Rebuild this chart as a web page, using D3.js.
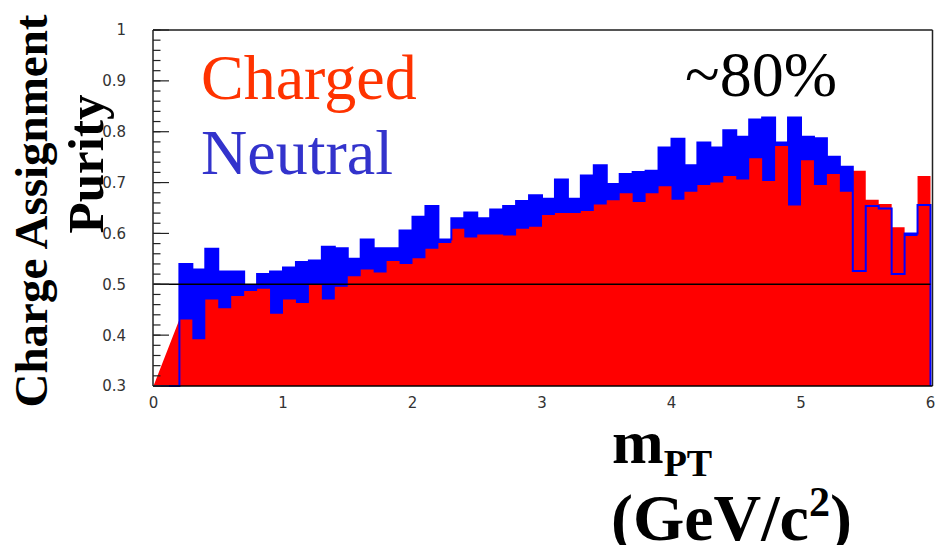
<!DOCTYPE html>
<html><head><meta charset="utf-8">
<script src="https://cdn.jsdelivr.net/npm/d3@7"></script>
<style>html,body{margin:0;padding:0;background:#fff}svg{display:block}</style>
</head><body>
<script>
// ---- data (60 bins of width 0.1 GeV/c^2, 0..6) ----
const xDomain = [0, 6];
const yDomain = [0.3, 1.0];
const binWidth = 0.1;
const charged = [0, 0, 0.431, 0.392, 0.470, 0.453, 0.477, 0.487, 0.491, 0.442,
  0.470, 0.463, 0.499, 0.470, 0.495, 0.516, 0.529, 0.523, 0.546, 0.540,
  0.551, 0.570, 0.581, 0.609, 0.592, 0.598, 0.598, 0.596, 0.609, 0.613,
  0.636, 0.640, 0.640, 0.644, 0.657, 0.665, 0.679, 0.662, 0.679, 0.693,
  0.666, 0.682, 0.695, 0.700, 0.713, 0.706, 0.748, 0.703, 0.772, 0.655,
  0.744, 0.695, 0.717, 0.682, 0.723, 0.666, 0.658, 0.612, 0.595, 0.713];
const neutral = [0, 0, 0.540, 0.529, 0.570, 0.525, 0.525, 0.497, 0.520, 0.525,
  0.533, 0.544, 0.547, 0.574, 0.571, 0.550, 0.588, 0.571, 0.571, 0.606,
  0.633, 0.654, 0.588, 0.630, 0.641, 0.630, 0.647, 0.654, 0.664, 0.675,
  0.668, 0.706, 0.668, 0.714, 0.734, 0.697, 0.717, 0.721, 0.723, 0.769,
  0.786, 0.734, 0.779, 0.769, 0.803, 0.790, 0.824, 0.828, 0.779, 0.828,
  0.790, 0.787, 0.751, 0.731, 0.526, 0.654, 0.649, 0.520, 0.600, 0.656];
const yTickValues = [0.3, 0.4, 0.5, 0.6, 0.7, 0.8, 0.9, 1];
const yTickLabels = ["0.3", "0.4", "0.5", "0.6", "0.7", "0.8", "0.9", "1"];
const xTickValues = [0, 1, 2, 3, 4, 5, 6];
const xTickLabels = ["0", "1", "2", "3", "4", "5", "6"];
const refLine = 0.5;
const minorStep = 0.02;

// ---- layout ----
const W = 937, H = 545;
const svg = d3.select("body").append("svg").attr("width", W).attr("height", H);
svg.append("rect").attr("width", W).attr("height", H).attr("fill", "#fff");

const x = d3.scaleLinear().domain(xDomain).range([153.5, 930.5]);
const y = d3.scaleLinear().domain(yDomain).range([386, 30]);
const y0 = y(yDomain[0]);
const clampV = v => Math.max(yDomain[0], Math.min(yDomain[1], v));
const line = d3.line();

function stepPoints(vals, skipLow) {
  const pts = [[x(xDomain[0]), y0]];
  vals.forEach((v, i) => {
    if (skipLow && v <= yDomain[0]) return;
    const a = x(i * binWidth), b = x((i + 1) * binWidth);
    pts.push([a, y(clampV(v))], [b, y(clampV(v))]);
  });
  pts.push([x(xDomain[1]), y0]);
  return pts;
}

const plot = svg.append("g");
// neutral filled
plot.append("path").attr("d", line(stepPoints(neutral, false)) + "Z")
  .attr("fill", "#0000ff").attr("stroke", "none");
// charged filled on top
plot.append("path").attr("d", line(stepPoints(charged, true)) + "Z")
  .attr("fill", "#ff0000").attr("stroke", "none");
// neutral outline
plot.append("path").attr("d", line(stepPoints(neutral, false)))
  .attr("fill", "none").attr("stroke", "#0000ff").attr("stroke-width", 2);

// reference line at 0.5
plot.append("line").attr("x1", x(xDomain[0])).attr("x2", x(xDomain[1]))
  .attr("y1", y(refLine)).attr("y2", y(refLine))
  .attr("stroke", "#000").attr("stroke-width", 1.5);

// frame
const fL = 153, fR = 932.5, fT = 30, fB = 386;
svg.append("line").attr("x1", fL).attr("x2", fR).attr("y1", fT).attr("y2", fT).attr("stroke", "#555").attr("stroke-width", 2);
svg.append("line").attr("x1", fR).attr("x2", fR).attr("y1", fT).attr("y2", fB).attr("stroke", "#222").attr("stroke-width", 1.5);
svg.append("line").attr("x1", fL).attr("x2", fR).attr("y1", fB).attr("y2", fB).attr("stroke", "#000").attr("stroke-width", 1.5);
svg.append("line").attr("x1", fL).attr("x2", fL).attr("y1", fT).attr("y2", fB).attr("stroke", "#222").attr("stroke-width", 1.5);

// y ticks
const minor = d3.range(Math.round((yDomain[1] - yDomain[0]) / minorStep) + 1)
  .map(k => yDomain[0] + k * minorStep);
svg.append("g").selectAll("line.minor").data(minor).join("line")
  .attr("x1", fL).attr("x2", fL + 7.5).attr("y1", d => y(d)).attr("y2", d => y(d))
  .attr("stroke", "#222").attr("stroke-width", 1.2);
svg.append("g").selectAll("line.major").data(yTickValues).join("line")
  .attr("x1", fL).attr("x2", fL + 16).attr("y1", d => y(d)).attr("y2", d => y(d))
  .attr("stroke", "#222").attr("stroke-width", 1.2);
svg.append("g").selectAll("text").data(yTickValues).join("text")
  .attr("x", 126).attr("y", d => y(d)).attr("dy", "0.36em")
  .attr("text-anchor", "end")
  .attr("font-family", "DejaVu Sans").attr("font-size", 15)
  .attr("fill", "#333")
  .text((d, i) => yTickLabels[i]);

// x tick labels
svg.append("g").selectAll("text").data(xTickValues).join("text")
  .attr("x", d => x(d)).attr("y", 408)
  .attr("text-anchor", "middle")
  .attr("font-family", "DejaVu Sans").attr("font-size", 15)
  .attr("fill", "#333")
  .text((d, i) => xTickLabels[i]);

// legend-like labels
const serif = "Liberation Serif, Times New Roman, serif";
svg.append("text").attr("x", 201).attr("y", 99).attr("font-family", serif)
  .attr("font-size", 64).attr("fill", "#ff3300").text("Charged");
svg.append("text").attr("x", 201).attr("y", 174).attr("font-family", serif)
  .attr("font-size", 64).attr("fill", "#3333cc").text("Neutral");
svg.append("text").attr("x", 685).attr("y", 96).attr("font-family", serif)
  .attr("font-size", 64).attr("fill", "#000").text("~80%");

// y title
svg.append("text").attr("transform", "translate(47,211) rotate(-90)")
  .attr("text-anchor", "middle").attr("font-family", serif).attr("font-weight", "bold")
  .attr("font-size", 47).attr("fill", "#000").text("Charge Assignment");
svg.append("text").attr("transform", "translate(103,164) rotate(-90)")
  .attr("text-anchor", "middle").attr("font-family", serif).attr("font-weight", "bold")
  .attr("font-size", 51).attr("fill", "#000").text("Purity");

// x title
const xt = svg.append("text").attr("x", 612).attr("y", 463).attr("font-family", serif)
  .attr("font-weight", "bold").attr("fill", "#000");
xt.append("tspan").attr("font-size", 62).text("m");
xt.append("tspan").attr("font-size", 38).attr("dy", 13).text("PT");
const xt2 = svg.append("text").attr("x", 611).attr("y", 540).attr("font-family", serif)
  .attr("font-weight", "bold").attr("fill", "#000").attr("font-size", 66);
xt2.append("tspan").text("(GeV/c");
xt2.append("tspan").attr("font-size", 42).attr("dy", -24).text("2");
xt2.append("tspan").attr("dy", 24).text(")");
</script>
</body></html>
